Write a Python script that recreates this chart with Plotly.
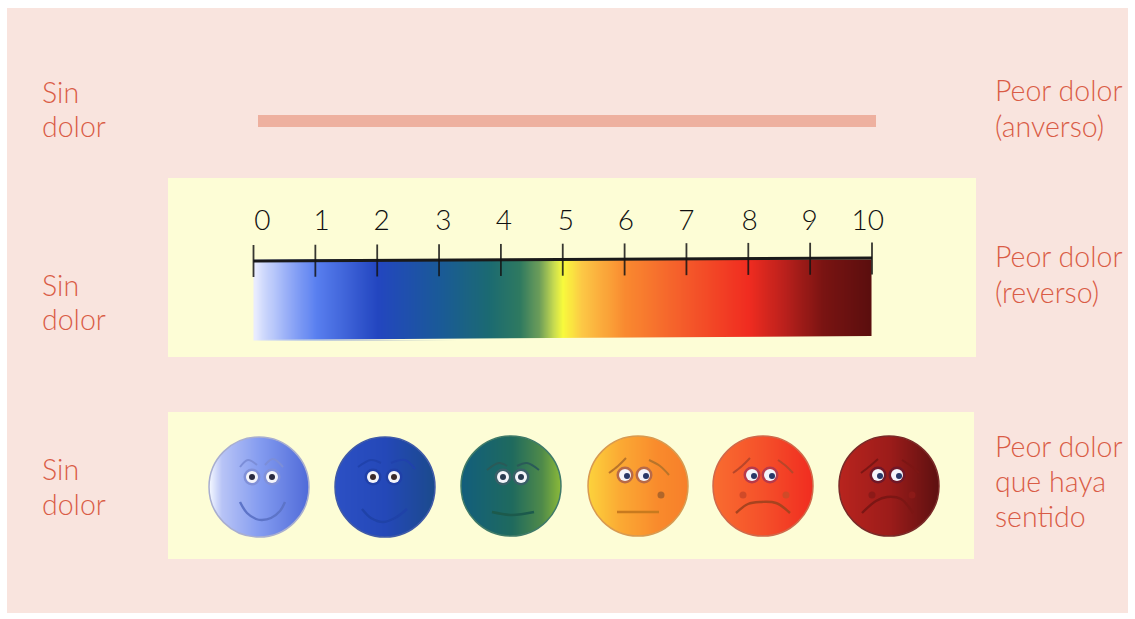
import numpy as np
import plotly.graph_objects as go

W, H = 1135, 619
PINK, CREAM, LABEL = "#f9e4de", "#fdfdd6", "#d95c46"

# Pain scale
scale_ticks = [0, 1, 2, 3, 4, 5, 6, 7, 8, 9, 10]
scale_labels = ["0", "1", "2", "3", "4", "5", "6", "7", "8", "9", "10"]
scale_label_positions = [0.145, 1.1, 2.07, 3.07, 4.05, 5.05, 6.02, 7.0, 8.02, 8.99, 9.93]
gradient_stops = [0, 0.15, 0.5, 1, 2, 3, 3.8, 4.3, 4.6, 4.85, 5, 5.3, 6, 7, 8, 8.6, 9.2, 10]
gradient_colors = ["#eef0ff", "#d0daFc", "#9db2f8", "#5a80f0", "#2346c0", "#1a5a98", "#1b6a72",
                   "#2f7a60", "#6a9c5a", "#c8dc50", "#f8fb3c", "#fcc846", "#f98a30", "#f4592a",
                   "#f02c20", "#b8201c", "#7a1412", "#5a0e0e"]

# Row labels, one entry per line of text
left_lines = ["Sin", "dolor", "Sin", "dolor", "Sin", "dolor"]
left_y = [92, 125.5, 285, 318.5, 469, 503.5]
right_lines = ["Peor dolor", "(anverso)", "Peor dolor", "(reverso)", "Peor dolor", "que haya", "sentido"]
right_y = [90, 126, 256, 292, 446, 480.5, 515.5]

# Faces
face_x = [259, 385, 511, 638, 763, 889]
face_y = [487, 487, 486, 486, 486, 486]
face_radius = 50
face_edge = ["#a8aed0", "#3f5aa8", "#3f7a68", "#d89a50", "#d0684a", "#7a2a28"]
face_gradients = [
    [(0, "#f2f5ff"), (0.12, "#b8c4f6"), (0.5, "#849cf0"), (1, "#4f6ad8")],
    [(0, "#2c50c4"), (0.5, "#2448b8"), (1, "#1b4a8c")],
    [(0, "#125e7c"), (0.5, "#1f6a5e"), (0.8, "#4f8a4a"), (1, "#8fbc38")],
    [(0, "#fcd23c"), (0.3, "#fbab34"), (0.7, "#f98a2c"), (1, "#f77f2a")],
    [(0, "#f96c30"), (0.5, "#f5502a"), (1, "#f02c20")],
    [(0, "#b8241e"), (0.5, "#9c1c1a"), (1, "#5c1010")],
]
eye_dx = [(-7, 13), (-12, 9), (-8, 10), (-13, 6), (-11, 7), (-11, 8)]
eye_dy = [-10, -10, -9, -11, -11, -11]
eye_ring = ["#8090d8", "#2040a8", "#3a5f68", "#b86a48", "#b83a4a", "#701828"]
pupil_color = ["#2a2a40", "#3a2a2a", "#2a3a50", "#283868", "#283868", "#283868"]
pupil_shift = [(0, 0), (0, 0), (0, 0), (2, 1), (2, 1), (2, 1)]
mouth_color = ["#5d74c8", "#1f42a8", "#1c5a4c", "#c87a1e", "#a8431f", "#7c1614"]
mouth_dx = [[-19, -12, -3, 3, 12, 21, 26], [-23, -14, -2, 10, 22], [-19, 1, 23], [-21, 21],
            [-27, -15, -3, 13, 27], [-27, -13, -2, 12, 24]]
mouth_dy = [[15, 26, 32, 33, 31, 24, 15], [22, 31, 35, 31, 22], [26, 29, 26], [26, 26],
            [27, 18, 16, 17, 27], [27, 15, 11, 13, 27]]
brow_color = ["#7c8ed8", "#2042ac", "#2a5a58", "#b8742a", "#b8462a", "#7c1614"]
brow_dx = [[-19, -11, -2], [6, 14, 24], [-27, -14, -4], [6, 20, 30], [-24, -12, -4], [6, 16, 28],
           [-29, -20, -12], [11, 22, 31], [-30, -21, -13], [15, 23, 30], [-28, -19, -11], [13, 22, 30]]
brow_dy = [[-20, -27, -22], [-22, -28, -20], [-20, -27, -24], [-24, -27, -18], [-16, -23, -20], [-20, -23, -16],
           [-13, -20, -28], [-26, -20, -11], [-13, -20, -28], [-26, -20, -13], [-13, -20, -27], [-26, -20, -13]]
spot_face = [3, 4, 4, 5, 5]
spot_dx = [23, -20, 23, -17, 23]
spot_dy = [9, 9, 9, 9, 9]
spot_color = ["#b0662a", "#d04a28", "#d04a28", "#8c1a18", "#8c1a18"]

fig = go.Figure()


def edges(a, b):
    return [a, (a + b) / 2, b]


# Faces
for i, (cx, cy) in enumerate(zip(face_x, face_y)):
    g = face_gradients[i]
    xs = np.linspace(cx - face_radius, cx + face_radius, 101)
    fig.add_trace(go.Heatmap(x=xs, y=edges(cy - face_radius, cy + face_radius), z=[xs, xs], zsmooth="best",
                             colorscale=[[p, c] for p, c in g], showscale=False, hoverinfo="skip"))
for i, (cx, cy) in enumerate(zip(face_x, face_y)):
    for k in (2 * i, 2 * i + 1):
        fig.add_trace(go.Scatter(x=[cx + d for d in brow_dx[k]], y=[cy + d for d in brow_dy[k]], mode="lines",
                                 line=dict(color=brow_color[i], width=2, shape="spline"), hoverinfo="skip"))
    fig.add_trace(go.Scatter(x=[cx + d for d in mouth_dx[i]], y=[cy + d for d in mouth_dy[i]], mode="lines",
                             line=dict(color=mouth_color[i], width=2.4, shape="spline"), hoverinfo="skip"))
    ex = [cx + d for d in eye_dx[i]]
    ey = [cy + eye_dy[i]] * 2
    fig.add_trace(go.Scatter(x=ex, y=ey, mode="markers", marker=dict(size=17, color=eye_ring[i]), hoverinfo="skip"))
    fig.add_trace(go.Scatter(x=ex, y=ey, mode="markers", marker=dict(size=12, color="#f4f4fa"), hoverinfo="skip"))
    fig.add_trace(go.Scatter(x=[e + pupil_shift[i][0] for e in ex], y=[e + pupil_shift[i][1] for e in ey],
                             mode="markers", marker=dict(size=6, color=pupil_color[i]), hoverinfo="skip"))
for f, dx, dy, c in zip(spot_face, spot_dx, spot_dy, spot_color):
    fig.add_trace(go.Scatter(x=[face_x[f] + dx], y=[face_y[f] + dy], mode="markers",
                             marker=dict(size=7, color=c), hoverinfo="skip"))

# Colour ramp, on its own 0-10 axis (x holds cell edges, z the cell centres)
ramp_edges = np.linspace(0, 10, 201)
ramp = (ramp_edges[:-1] + ramp_edges[1:]) / 2
fig.add_trace(go.Heatmap(
    x=ramp_edges, y=edges(259.5, 340), z=[ramp, ramp], xaxis="x2", yaxis="y", zmin=0, zmax=10, zsmooth="best",
    colorscale=[[s / 10, c] for s, c in zip(gradient_stops, gradient_colors)],
    showscale=False, hoverinfo="skip"))

# Scale baseline, ticks, numbers
fig.add_trace(go.Scatter(x=[scale_ticks[0], scale_ticks[-1]], y=[261, 258], xaxis="x2", mode="lines",
                         line=dict(color="#1a1a1a", width=3), hoverinfo="skip"))
tx, ty = [], []
for t in scale_ticks:
    tilt = 2.6 * t / 10
    tx += [t, t, None]
    ty += [245 - tilt, 277 - tilt, None]
fig.add_trace(go.Scatter(x=tx, y=ty, xaxis="x2", mode="lines",
                         line=dict(color="rgba(20,20,20,0.85)", width=1.8), hoverinfo="skip"))
fig.add_trace(go.Scatter(x=scale_label_positions, y=[223] * 11, xaxis="x2", mode="text", cliponaxis=False,
                         text=scale_labels, textposition="middle center",
                         textfont=dict(family="Lato", size=28, color="#101010", weight=300), hoverinfo="skip"))

# Circular mask over the face ramps
K = 0.5523 * face_radius
R = face_radius
mask = "M168,412 L974,412 L974,559 L168,559 Z "
for cx, cy in zip(face_x, face_y):
    mask += (f"M{cx - R},{cy} C{cx - R},{cy - K} {cx - K},{cy - R} {cx},{cy - R} "
             f"C{cx + K},{cy - R} {cx + R},{cy - K} {cx + R},{cy} "
             f"C{cx + R},{cy + K} {cx + K},{cy + R} {cx},{cy + R} "
             f"C{cx - K},{cy + R} {cx - R},{cy + K} {cx - R},{cy} Z ")

shapes = [
    dict(type="rect", x0=7, x1=1128, y0=8, y1=613, fillcolor=PINK, line_width=0, layer="below"),
    dict(type="rect", x0=258, x1=876, y0=115, y1=127, fillcolor="#eeb09f", line_width=0, layer="below"),
    dict(type="rect", x0=168, x1=976, y0=178, y1=357, fillcolor=CREAM, line_width=0, layer="below"),
    dict(type="rect", x0=168, x1=974, y0=412, y1=559, fillcolor=CREAM, line_width=0, layer="below"),
    dict(type="path", path="M252,340 L874,343 L874,336 L872,336 Z", fillcolor=CREAM, line_width=0, layer="above"),
    dict(type="path", path=mask, fillcolor=CREAM, fillrule="evenodd", line_width=0, layer="above"),
]
for cx, cy, c in zip(face_x, face_y, face_edge):
    shapes.append(dict(type="circle", x0=cx - R, x1=cx + R, y0=cy - R, y1=cy + R,
                       fillcolor="rgba(0,0,0,0)", line=dict(color=c, width=1.5), layer="above"))

annotations = []
for t, y in zip(left_lines, left_y):
    annotations.append(dict(x=39.5, y=y, text=t, xanchor="left", yanchor="middle", align="left", showarrow=False,
                            font=dict(family="Lato", size=28.5, color=LABEL, weight=300)))
for t, y in zip(right_lines, right_y):
    annotations.append(dict(x=993, y=y, text=t, xanchor="left", yanchor="middle", align="left", showarrow=False,
                            font=dict(family="Lato", size=28.5, color=LABEL, weight=300)))

hidden = dict(visible=False, showgrid=False, zeroline=False, fixedrange=True)
pad = 0.1
unit = (872 - 253.5) / 10
fig.update_layout(
    width=W, height=H, autosize=False, margin=dict(l=0, r=0, t=0, b=0), showlegend=False,
    paper_bgcolor="white", plot_bgcolor="rgba(0,0,0,0)", shapes=shapes, annotations=annotations,
    xaxis=dict(range=[0, W], domain=[0, 1], **hidden),
    yaxis=dict(range=[H, 0], domain=[0, 1], **hidden),
    xaxis2=dict(range=[-pad, 10 + pad], domain=[(253.5 - pad * unit) / W, (872 + pad * unit) / W], anchor="y", **hidden),
)
fig.write_html("out.html", config={"displayModeBar": False},
               post_script="document.body.style.margin='0';document.documentElement.style.overflow='hidden';")
